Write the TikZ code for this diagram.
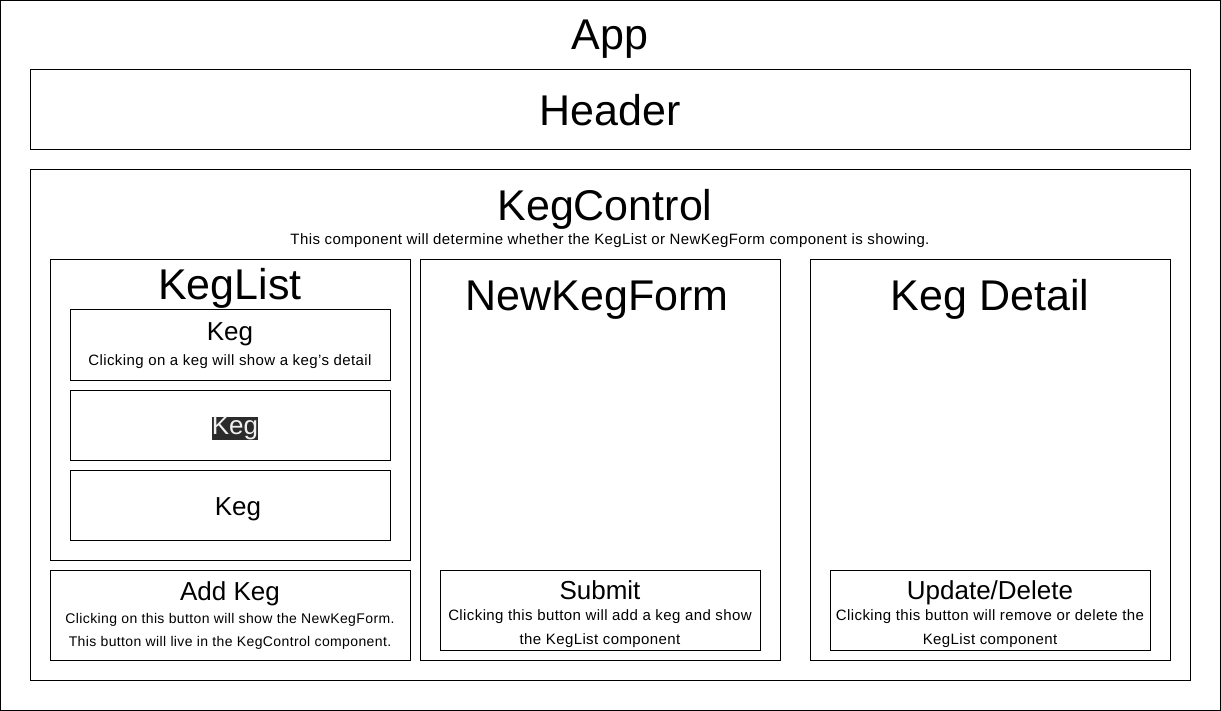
\documentclass[tikz,border=0pt]{standalone}
\usepackage{fontspec}
\setmainfont{Liberation Sans}
\definecolor{selbg}{HTML}{2B2B2B}
\definecolor{seltx}{HTML}{F0F0F0}
\begin{document}
\begin{tikzpicture}[x=1pt,y=-1pt,
  box/.style={draw=black,line width=1pt,inner sep=0,rectangle},
  big/.style={anchor=base,inner sep=0,font=\fontsize{43}{50}\selectfont},
  mid/.style={anchor=base,inner sep=0,font=\fontsize{26}{30}\selectfont},
  small/.style={anchor=base,inner sep=0,font=\fontsize{15}{18}\selectfont\addfontfeature{LetterSpace=2.7}},
  smaller/.style={anchor=base,inner sep=0,font=\fontsize{14}{17}\selectfont\addfontfeature{LetterSpace=2.7}}]
\useasboundingbox (0,0) rectangle (1221,711);
% boxes
\node[box,minimum width=1220,minimum height=710] (app) at (610.5,355.5) {};
\node[box,minimum width=1160,minimum height=80] (header) at (610,110) {};
\node[box,minimum width=1160,minimum height=510] (control) at (610,425) {};
\node[box,minimum width=360,minimum height=300] (keglist) at (230,410) {};
\node[box,minimum width=320,minimum height=70] (keg1) at (230,345) {};
\node[box,minimum width=320,minimum height=70] (keg2) at (230,425) {};
\node[box,minimum width=320,minimum height=70] (keg3) at (230,505) {};
\node[box,minimum width=360,minimum height=90] (addkeg) at (230,615) {};
\node[box,minimum width=360,minimum height=400] (newform) at (600,460) {};
\node[box,minimum width=320,minimum height=80] (submit) at (600,610) {};
\node[box,minimum width=360,minimum height=400] (detail) at (990,460) {};
\node[box,minimum width=320,minimum height=80] (upd) at (990,610) {};
% texts
\node[big] (tapp) at (610,50) {App};
\node[big] (theader) at (610,126) {Header};
\node[big] (tcontrol) at (605,221) {KegControl};
\node[small] (dcontrol) at (610,245) {This component will determine whether the KegList or NewKegForm component is showing.};
\node[big] (tkeglist) at (230,300) {KegList};
\node[mid] (tkeg1) at (230,341) {Keg};
\node[small] (dkeg1) at (230,366) {Clicking on a keg will show a keg\symbol{39}s detail};
\node[fill=selbg,text=seltx,inner sep=0,minimum width=46,minimum height=23,font=\fontsize{26}{30}\selectfont] (tkeg2) at (235,428.5) {Keg};
\node[mid] (tkeg3) at (238,515) {Keg};
\node[mid] (taddkeg) at (230,600) {Add Keg};
\node[smaller] (daddkeg1) at (230,623) {Clicking on this button will show the NewKegForm.};
\node[smaller] (daddkeg2) at (230,646) {This button will live in the KegControl component.};
\node[big] (tnewform) at (597,311) {NewKegForm};
\node[mid] (tsubmit) at (600,599) {Submit};
\node[small] (dsubmit1) at (600,620) {Clicking this button will add a keg and show};
\node[small] (dsubmit2) at (600,644) {the KegList component};
\node[big] (tdetail) at (990,311) {Keg Detail};
\node[mid] (tupd) at (990,599) {Update/Delete};
\node[small] (dupd1) at (990,620) {Clicking this button will remove or delete the};
\node[small] (dupd2) at (990,644) {KegList component};
\end{tikzpicture}
\end{document}
